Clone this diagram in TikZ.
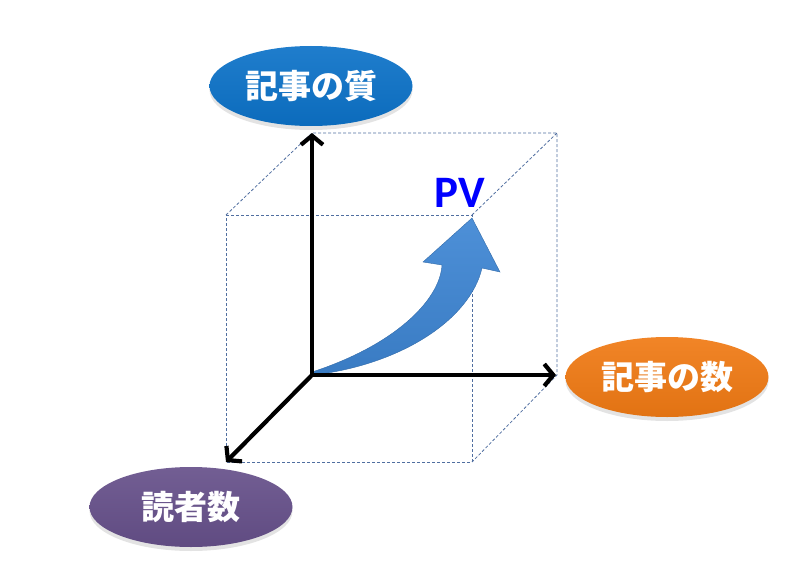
\documentclass[tikz,border=0pt]{standalone}
\usepackage{fontspec}
\newfontfamily\cjk{Noto Sans CJK JP}
\newfontfamily\pvfont{Carlito}
\usetikzlibrary{arrows.meta,shadows,shapes.geometric}
\definecolor{qblue}{RGB}{12,114,200}
\definecolor{qorange}{RGB}{240,122,20}
\definecolor{qpurple}{RGB}{102,80,138}
\definecolor{cubeline}{RGB}{80,110,160}
\definecolor{arrowblue}{RGB}{62,134,212}
\definecolor{pvblue}{RGB}{0,0,255}
\tikzset{
  axislabel/.style={ellipse, minimum width=203pt, minimum height=80pt, inner sep=0pt,
    text=white, font=\cjk\bfseries\fontsize{33}{38}\selectfont,
    drop shadow={opacity=0.22, shadow xshift=0pt, shadow yshift=-4pt}},
  cube/.style={draw=cubeline, line width=0.8pt, dash pattern=on 3pt off 2pt},
  axis/.style={line width=4.2pt, black, -{Straight Barb[length=9pt,width=22pt]}},
}
\begin{document}
\begin{tikzpicture}[x=1pt,y=-1pt]
\useasboundingbox (0,0) rectangle (800,586);
% coordinates
\coordinate (O) at (312,375);
\coordinate (Y) at (312,133);
\coordinate (X) at (556,375);
\coordinate (Z) at (226,462);
\coordinate (FTL) at (226,215);
\coordinate (FTR) at (472,215);
\coordinate (FBR) at (472,462);
\coordinate (BTR) at (557,133);
\coordinate (BBR) at (557,375);
% cube
\draw[cube] (FTL) -- (FTR) -- (FBR) -- (Z) -- cycle;
\draw[cube] (FTL) -- (Y) -- (BTR) -- (BBR) -- (FBR);
\draw[cube] (FTR) -- (BTR);
% curved block arrow
\path[draw=arrowblue!80!black, line width=0.4pt,
      top color=arrowblue!92!white, bottom color=arrowblue!92!black]
  (312,372) .. controls (395,345) and (440,300) .. (442,265)
  -- (423,262) -- (472,218) -- (500,272) -- (482,268)
  .. controls (470,320) and (400,365) .. (313,375) -- cycle;
% axes
\draw[axis] (O) -- (Y);
\draw[axis] (O) -- (X);
\draw[axis] (O) -- (Z);
% labels
\node[axislabel, top color=qblue!92!white, bottom color=qblue!94!black] (quality) at (311,86) {記事の質};
\node[axislabel, top color=qorange!92!white, bottom color=qorange!94!black] (count) at (667,377) {記事の数};
\node[axislabel, top color=qpurple!92!white, bottom color=qpurple!94!black] (readers) at (191,507) {読者数};
\node[text=pvblue, font=\pvfont\bfseries\fontsize{45}{50}\selectfont, inner sep=0pt] (pv) at (460,193) {PV};
\end{tikzpicture}
\end{document}
